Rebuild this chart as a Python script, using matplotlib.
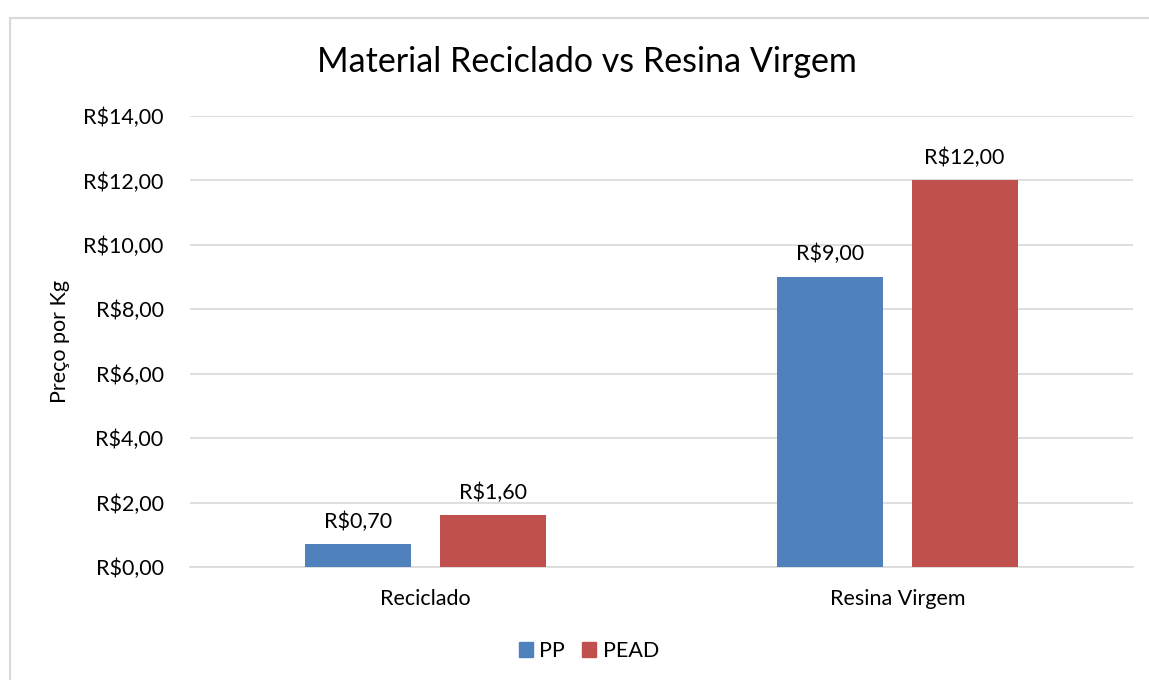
import matplotlib.pyplot as plt
import numpy as np
from matplotlib.patches import Rectangle, Patch

plt.rcParams['font.family'] = ['Lato', 'DejaVu Sans']

categories = ["Reciclado", "Resina Virgem"]
series_names = ["PP", "PEAD"]
pp_values = [0.70, 9.00]
pead_values = [1.60, 12.00]
colors = ["#4F81BD", "#C0504D"]
y_ticks = [0, 2, 4, 6, 8, 10, 12, 14]

FS = 15.5


def brl(v):
    return "R$" + f"{v:.2f}".replace(".", ",")


fig = plt.figure(figsize=(11.49, 6.8), dpi=100)
ax = fig.add_axes([190 / 1149, 1 - 567 / 680, (1133 - 190) / 1149, (567 - 116) / 680])

# chart frame
fig.patches.append(Rectangle((9.5 / 1149, -0.1), 1.2, 1 - 17.5 / 680 + 0.1,
                             transform=fig.transFigure, fill=False,
                             edgecolor="#D9D9D9", linewidth=1.5))

x = np.arange(len(categories))
width = 0.225
offset = 0.143

for vals, name, col, off in zip([pp_values, pead_values], series_names, colors, [-offset, offset]):
    bars = ax.bar(x + off, vals, width, color=col, label=name, zorder=3)
    for b, v in zip(bars, vals):
        ax.annotate(brl(v), (b.get_x() + b.get_width() / 2, v),
                    xytext=(0, 9), textcoords="offset points",
                    ha="center", va="bottom", fontsize=FS, color="#000000")

ax.set_xlim(-0.5, 1.5)
ax.set_ylim(0, 14)
ax.set_yticks(y_ticks)
ax.set_yticklabels([brl(t) for t in y_ticks], fontsize=FS)
ax.set_xticks(x)
ax.set_xticklabels(categories, fontsize=FS)
ax.tick_params(axis="x", length=0, pad=16)
ax.tick_params(axis="y", length=0, pad=19)

ax.grid(axis="y", color="#D9D9D9", linewidth=1.2, zorder=0)
for s in ["top", "right", "left"]:
    ax.spines[s].set_visible(False)
ax.spines["bottom"].set_color("#D9D9D9")
ax.spines["bottom"].set_linewidth(1.2)

ax.set_ylabel("Preço por Kg", fontsize=FS)
ax.yaxis.set_label_coords((70 - 190) / 943, 0.5)
fig.text(587 / 1149, 1 - 62 / 680, "Material Reciclado vs Resina Virgem",
         ha="center", va="center", fontsize=24.5)

handles = [Patch(color=c, label=n) for c, n in zip(colors, series_names)]
fig.legend(handles=handles, loc="center", bbox_to_anchor=(589 / 1149, 1 - 651 / 680),
           ncol=2, frameon=False, fontsize=FS, handlelength=0.65, handleheight=0.65,
           columnspacing=0.8, handletextpad=0.3)

fig.savefig("out.png", dpi=100)
